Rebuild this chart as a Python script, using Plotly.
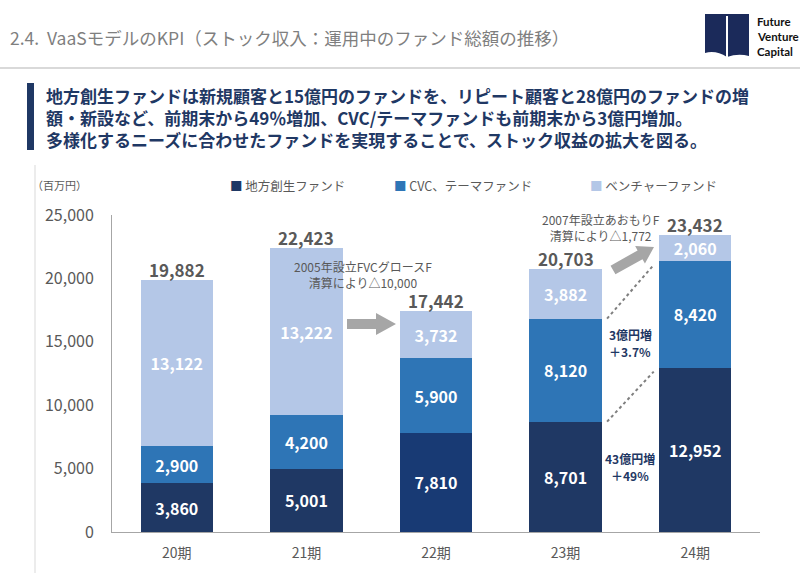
import plotly.graph_objects as go
import math

# ---- data ----
periods = ["20期", "21期", "22期", "23期", "24期"]
series_names = ["地方創生ファンド", "CVC、テーマファンド", "ベンチャーファンド"]
regional = [3860, 5001, 7810, 8701, 12952]
cvc_theme = [2900, 4200, 5900, 8120, 8420]
venture = [13122, 13222, 3732, 3882, 2060]
y_ticks = [0, 5000, 10000, 15000, 20000, 25000]

FONT = "Noto Sans CJK JP"
NAVY = "#1F3864"
NAVY_22 = "#183A74"
MID = "#2E75B6"
LIGHT = "#B4C7E7"
GRAY = "#595959"

# plot area in pixels
L, R, T, B = 112, 760, 215, 532
W, H = R - L, B - T


def px(x):
    return (x - L) / W


def py(y):
    return (B - y) / H


fig = go.Figure()
series = [regional, cvc_theme, venture]
colors = [[NAVY, NAVY, NAVY_22, NAVY, NAVY], MID, LIGHT]
for name, vals, col in zip(series_names, series, colors):
    fig.add_trace(go.Bar(
        x=periods, y=vals, name=name,
        marker=dict(color=col, line=dict(width=0)),
        text=[f"{v:,}" for v in vals],
        textposition="inside", insidetextanchor="middle", textangle=0,
        textfont=dict(family=FONT, size=16, color="white", weight="bold"),
        constraintext="none", hoverinfo="skip", showlegend=False,
    ))

annotations = []
shapes = []

# totals above bars
totals = [a + b + c for a, b, c in zip(regional, cvc_theme, venture)]
for p, t in zip(periods, totals):
    annotations.append(dict(
        x=p, y=t, xref="x", yref="y", text=f"<b>{t:,}</b>", showarrow=False,
        yanchor="bottom", yshift=-4,
        font=dict(family=FONT, size=17, color=GRAY)))

# legend drawn as text
legend_x = [228, 392, 588]
leg_colors = [NAVY, MID, LIGHT]
for name, lx, c in zip(series_names, legend_x, leg_colors):
    annotations.append(dict(
        x=px(lx), y=py(186), xref="paper", yref="paper",
        xanchor="left", yanchor="middle", showarrow=False,
        text=f'<span style="color:{c}">■</span> {name}',
        font=dict(family=FONT, size=12.5, color=GRAY)))

# title
annotations.append(dict(
    x=px(8), y=py(38), xref="paper", yref="paper", xanchor="left", yanchor="middle",
    showarrow=False,
    text="2.4.\u00a0\u00a0VaaSモデルのKPI（ストック収入：運用中のファンド総額の推移）",
    font=dict(family=FONT, size=17.5, color="#7F7F7F")))

# subtitle
subtitle_lines = [
    "地方創生ファンドは新規顧客と15億円のファンドを、リピート顧客と28億円のファンドの増",
    "額・新設など、前期末から49％増加、CVC/テーマファンドも前期末から3億円増加。",
    "多様化するニーズに合わせたファンドを実現することで、ストック収益の拡大を図る。",
]
for line, yy in zip(subtitle_lines, [96, 118, 140]):
    annotations.append(dict(
        x=px(44), y=py(yy), xref="paper", yref="paper", xanchor="left", yanchor="middle",
        showarrow=False, align="left", text=f"<b>{line}</b>",
        font=dict(family=FONT, size=17, color=NAVY)))

# unit
annotations.append(dict(
    x=px(30), y=py(185), xref="paper", yref="paper", xanchor="left", yanchor="middle",
    showarrow=False, text="（百万円）", font=dict(family=FONT, size=11, color=GRAY)))

# logo text
for i, word in enumerate(["Future", "Venture", "Capital"]):
    annotations.append(dict(
        x=px(755), y=py(21 + 15 * i), xref="paper", yref="paper", xanchor="left",
        yanchor="middle", showarrow=False, text=f"<b>{word}</b>",
        font=dict(family="Lato", size=11.5, color="#111111")))

# notes
annotations.append(dict(
    x=px(363), y=py(274), xref="paper", yref="paper", xanchor="center", yanchor="middle",
    showarrow=False, text="2005年設立FVCグロースF<br>清算により△10,000",
    font=dict(family=FONT, size=12, color=GRAY)))
annotations.append(dict(
    x=px(601), y=py(227), xref="paper", yref="paper", xanchor="center", yanchor="middle",
    showarrow=False, text="2007年設立あおもりF<br>清算により△1,772",
    font=dict(family=FONT, size=12, color=GRAY)))
for line, yy in [("3億円増", 334), ("＋3.7%", 351.5), ("43億円増", 458), ("＋49%", 475.5)]:
    annotations.append(dict(
        x=px(630), y=py(yy), xref="paper", yref="paper", xanchor="center", yanchor="middle",
        showarrow=False, text=f"<b>{line}</b>",
        font=dict(family=FONT, size=12, color=NAVY)))


def poly_path(points):
    s = "M" + " L".join(f"{px(x):.5f},{py(y):.5f}" for x, y in points) + " Z"
    return s


# horizontal block arrow
arrow1 = [(347, 319), (376, 319), (376, 313), (396, 324), (376, 335), (376, 329), (347, 329)]
shapes.append(dict(type="path", xref="paper", yref="paper", path=poly_path(arrow1),
                   fillcolor="#A6A6A6", line=dict(width=0)))


# diagonal block arrow
def block_arrow(x0, y0, x1, y1, bw=5, hw=10, hl=16):
    dx, dy = x1 - x0, y1 - y0
    ln = math.hypot(dx, dy)
    ux, uy = dx / ln, dy / ln
    nx, ny = -uy, ux
    bx, by = x1 - ux * hl, y1 - uy * hl
    pts = [(x0 + nx * bw, y0 + ny * bw), (bx + nx * bw, by + ny * bw), (bx + nx * hw, by + ny * hw),
           (x1, y1), (bx - nx * hw, by - ny * hw), (bx - nx * bw, by - ny * bw),
           (x0 - nx * bw, y0 - ny * bw)]
    return pts


shapes.append(dict(type="path", xref="paper", yref="paper",
                   path=poly_path(block_arrow(613, 270, 654, 247)),
                   fillcolor="#A6A6A6", line=dict(width=0)))

# dotted connector lines (data coords)
for lo, hi in [(regional[3], regional[4]),
               (regional[3] + cvc_theme[3], regional[4] + cvc_theme[4])]:
    shapes.append(dict(type="line", xref="x", yref="y", x0=3.32, x1=3.68, y0=lo, y1=hi - 300,
                       line=dict(color="#7F7F7F", width=2, dash="dot")))

# header rule
shapes.append(dict(type="line", xref="paper", yref="paper", x0=px(0), x1=px(800),
                   y0=py(68), y1=py(68), line=dict(color="#D9D9D9", width=2)))
# subtitle bar
shapes.append(dict(type="rect", xref="paper", yref="paper", x0=px(27), x1=px(34),
                   y0=py(150), y1=py(83), fillcolor=NAVY, line=dict(width=0)))
# left slide border
shapes.append(dict(type="line", xref="paper", yref="paper", x0=px(35), x1=px(35),
                   y0=py(165), y1=py(573), line=dict(color="#D9D9D9", width=1)))
# logo
logo = (f"M{px(705)},{py(14)} L{px(749)},{py(14)} L{px(749)},{py(56)} "
        f"Q{px(738)},{py(53)} {px(727)},{py(57)} Q{px(716)},{py(50)} {px(705)},{py(53)} Z")
shapes.append(dict(type="path", xref="paper", yref="paper", path=logo,
                   fillcolor="#1B2A5A", line=dict(width=0)))
shapes.append(dict(type="line", xref="paper", yref="paper", x0=px(727), x1=px(727),
                   y0=py(16), y1=py(57), line=dict(color="white", width=2)))

fig.update_layout(
    width=800, height=573,
    margin=dict(l=L, r=800 - R, t=T, b=573 - B),
    barmode="stack", bargap=0.44,
    paper_bgcolor="white", plot_bgcolor="white",
    font=dict(family=FONT, color=GRAY),
    showlegend=False,
    annotations=annotations, shapes=shapes,
    xaxis=dict(showgrid=False, zeroline=False, showline=True, linecolor="#A6A6A6", linewidth=1,
               tickfont=dict(family=FONT, size=14, color=GRAY), ticks="", ticklabelstandoff=8,
               fixedrange=True),
    yaxis=dict(range=[0, 25000], tickvals=y_ticks, tickformat=",", showgrid=False,
               zeroline=False, showline=True, linecolor="#A6A6A6", linewidth=1,
               tickfont=dict(family=FONT, size=16, color=GRAY), ticks="",
               ticklabelstandoff=14, fixedrange=True),
    uniformtext=dict(mode=False),
)

fig.write_html("out.html", config={"displayModeBar": False},
               post_script="document.body.style.margin='0';document.body.style.padding='0';")
